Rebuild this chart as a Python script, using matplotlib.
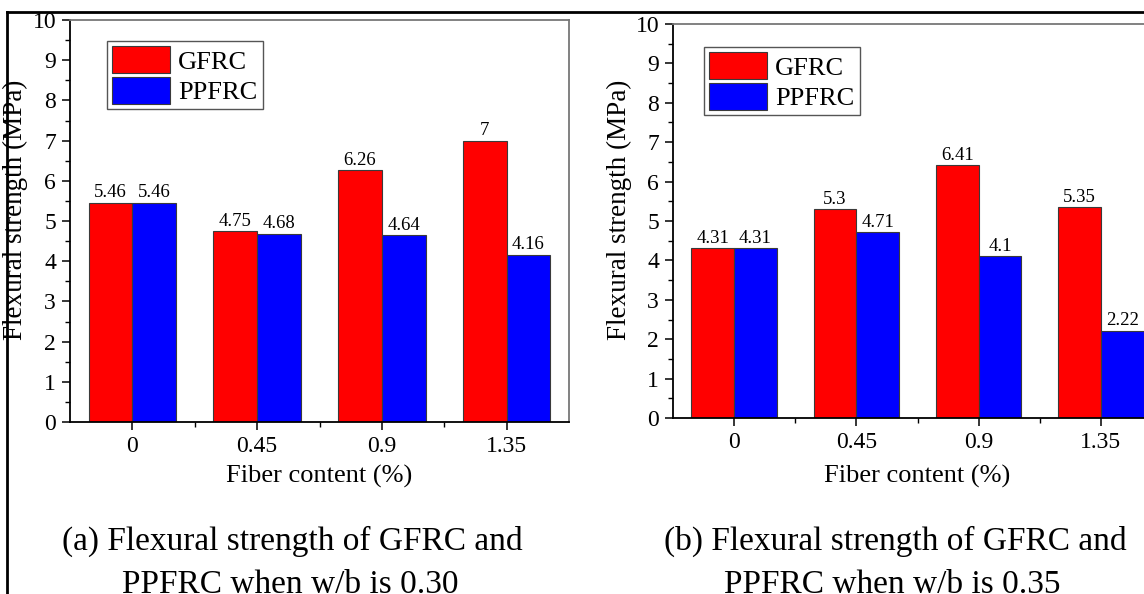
import matplotlib
matplotlib.use('Agg')
import matplotlib.pyplot as plt
from matplotlib.lines import Line2D
from matplotlib.ticker import MultipleLocator, FixedLocator
import numpy as np

plt.rcParams['font.family'] = ['Liberation Serif', 'DejaVu Serif']

# ---- data ----
categories = ['0', '0.45', '0.9', '1.35']
series_names = ['GFRC', 'PPFRC']
gfrc_030 = [5.46, 4.75, 6.26, 7]
ppfrc_030 = [5.46, 4.68, 4.64, 4.16]
gfrc_035 = [4.31, 5.3, 6.41, 5.35]
ppfrc_035 = [4.31, 4.71, 4.1, 2.22]
captions = ['(a) Flexural strength of GFRC and', 'PPFRC when w/b is 0.30',
            '(b) Flexural strength of GFRC and', 'PPFRC when w/b is 0.35']
xlabel = 'Fiber content (%)'
ylabel = 'Flexural strength (MPa)'

W, H = 1144, 594
fig = plt.figure(figsize=(W / 100, H / 100), dpi=100)


def px_axes(l, t, r, b):
    return fig.add_axes([l / W, 1 - b / H, (r - l) / W, (b - t) / H])


def draw(ax, g, p, leg_anchor, axt_px, axb_px, ylab_x):
    axh_px = axb_px - axt_px
    x = np.arange(len(categories))
    w = 0.35
    b1 = ax.bar(x - w / 2, g, w, color='#ff0000', edgecolor='#3a3a3a', linewidth=0.8, label=series_names[0])
    b2 = ax.bar(x + w / 2, p, w, color='#0000ff', edgecolor='#3a3a3a', linewidth=0.8, label=series_names[1])
    ax.bar_label(b1, labels=[f'{v:g}' for v in g], padding=1, fontsize=13.5)
    ax.bar_label(b2, labels=[f'{v:g}' for v in p], padding=1, fontsize=13.5)
    ax.set_xlim(-0.5, 3.5)
    ax.set_ylim(0, 10)
    ax.set_xticks(x, categories)
    ax.xaxis.set_minor_locator(FixedLocator(x[:-1] + 0.5))
    ax.yaxis.set_major_locator(MultipleLocator(1))
    ax.yaxis.set_minor_locator(MultipleLocator(0.5))
    ax.tick_params(which='major', direction='out', length=6, width=1.1, labelsize=17)
    ax.tick_params(axis='x', which='major', pad=4)
    ax.tick_params(axis='y', which='major', pad=4)
    ax.tick_params(which='minor', direction='out', length=3.5, width=1.0)
    for s in ['left', 'bottom']:
        ax.spines[s].set_color('black')
        ax.spines[s].set_linewidth(1.3)
    for s in ['top', 'right']:
        ax.spines[s].set_color('#777777')
        ax.spines[s].set_linewidth(1.3)
    ax.set_ylabel(ylabel, fontsize=19.5)
    ax.yaxis.set_label_coords(ylab_x, (axb_px - 210) / axh_px)
    ax.yaxis.label.set_va('center')
    ax.set_xlabel(xlabel, fontsize=19)
    ax.xaxis.set_label_coords(0.5, (axb_px - 476) / axh_px)
    ax.xaxis.label.set_va('center')
    leg = ax.legend(loc='upper left', bbox_to_anchor=leg_anchor, fontsize=19,
                    handlelength=2.2, handleheight=1.2, labelspacing=0.12,
                    borderpad=0.2, handletextpad=0.3, borderaxespad=0,
                    fancybox=False, framealpha=1, edgecolor='#555555')
    leg.get_frame().set_linewidth(1.0)


ax1 = px_axes(70, 20, 569, 422)
draw(ax1, gfrc_030, ppfrc_030, (0.074, 0.948), 20, 422, (15 - 70) / 499)
ax2 = px_axes(673, 24, 1162, 418)
draw(ax2, gfrc_035, ppfrc_035, (0.063, 0.942), 24, 418, (619 - 673) / 489)

fig.text(292 / W, 1 - 541 / H, captions[0], ha='center', va='center', fontsize=24)
fig.text(290 / W, 1 - 585 / H, captions[1], ha='center', va='center', fontsize=24)
fig.text(895 / W, 1 - 541 / H, captions[2], ha='center', va='center', fontsize=24)
fig.text(892 / W, 1 - 585 / H, captions[3], ha='center', va='center', fontsize=24)

# table border lines
fig.add_artist(Line2D([7 / W, 1], [1 - 12 / H, 1 - 12 / H], color='black', lw=2, transform=fig.transFigure))
fig.add_artist(Line2D([7 / W, 7 / W], [0, 1 - 12 / H], color='black', lw=2, transform=fig.transFigure))

fig.savefig('out.png', dpi=100)
